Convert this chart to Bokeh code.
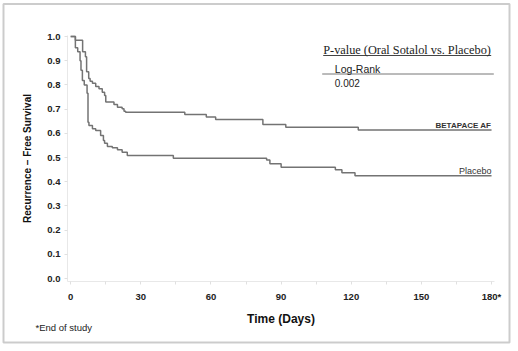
from bokeh.plotting import figure
from bokeh.models import FixedTicker, Label, BoxAnnotation, Range1d, PrintfTickFormatter
from bokeh.embed import file_html
from bokeh.resources import INLINE

# ---- data ----
betapace_days = [0, 2, 5.1, 6.3, 6.8, 7.7, 8.3, 9.3, 10.7, 12.1, 13.5, 14.5, 15, 18.5, 20, 22,
                 22.8, 23.5, 48.8, 58, 62, 82.2, 92, 123, 180]
betapace_surv = [1.0, 0.985, 0.937, 0.916, 0.854, 0.826, 0.815, 0.807, 0.793, 0.784, 0.770, 0.756,
                 0.729, 0.719, 0.708, 0.701, 0.691, 0.687, 0.678, 0.667, 0.657, 0.636, 0.625, 0.614, 0.614]
placebo_days = [0, 2, 3, 4, 4.4, 5.0, 5.8, 7.0, 7.4, 7.8, 9.3, 10.7, 12.8, 14, 14.5, 15.7, 17.8,
                20, 22, 24.2, 43.9, 83.8, 85.2, 90, 113.2, 116, 121.6, 180]
placebo_surv = [1.0, 0.953, 0.937, 0.90, 0.861, 0.818, 0.80, 0.765, 0.646, 0.632, 0.619, 0.612,
                0.591, 0.57, 0.559, 0.545, 0.54, 0.532, 0.522, 0.508, 0.497, 0.49, 0.474, 0.46,
                0.449, 0.437, 0.425, 0.425]
x_ticks = [0, 30, 60, 90, 120, 150, 180]
x_minor = [15, 45, 75, 105, 135, 165]
x_tick_labels = {180: "180*"}
y_ticks = [0.0, 0.1, 0.2, 0.3, 0.4, 0.5, 0.6, 0.7, 0.8, 0.9, 1.0]

# pixel -> data helpers for layout placement
def dx(px):
    return (px - 70.2) / 2.338

def dy(py):
    return (278.0 - py) / 242.0

SANS = "Liberation Sans"
SERIF = "Liberation Serif"
LINE = "#737373"

p = figure(width=518, height=351, output_backend="svg", toolbar_location=None,
           x_range=Range1d(dx(0), dx(518)), y_range=Range1d(dy(351), dy(0)),
           min_border=0)
p.title.visible = False
p.outline_line_color = None
p.grid.visible = False
p.background_fill_color = "white"
p.border_fill_color = "white"

p.step(betapace_days, betapace_surv, mode="after", line_color=LINE, line_width=1.5)
p.step(placebo_days, placebo_surv, mode="after", line_color=LINE, line_width=1.5)

# axes (fixed inside the full-canvas frame)
xa = p.xaxis[0]
xa.fixed_location = dy(281)
xa.bounds = (dx(67), dx(494))
xa.ticker = FixedTicker(ticks=x_ticks, minor_ticks=x_minor)
xa.major_label_overrides = x_tick_labels
xa.axis_line_color = "#e8e8e8"
xa.major_tick_line_color = "#e0e0e0"
xa.minor_tick_line_color = "#e0e0e0"
xa.major_tick_in = 0
xa.major_tick_out = 3
xa.minor_tick_in = 0
xa.minor_tick_out = 3
xa.major_label_standoff = 6
xa.major_label_text_font = SANS
xa.major_label_text_font_style = "bold"
xa.major_label_text_font_size = "9.5px"
xa.major_label_text_color = "#222222"
xa.axis_label = "Time (Days)"
xa.axis_label_text_font = SANS
xa.axis_label_text_font_style = "bold"
xa.axis_label_text_font_size = "12px"
xa.axis_label_text_color = "#111111"
xa.axis_label_standoff = 7

ya = p.yaxis[0]
ya.fixed_location = dx(67)
ya.bounds = (dy(281), dy(35))
ya.ticker = FixedTicker(ticks=y_ticks, minor_ticks=[])
ya.formatter = PrintfTickFormatter(format="%.1f")
ya.axis_line_color = "#e8e8e8"
ya.major_tick_line_color = "#e0e0e0"
ya.major_tick_in = 0
ya.major_tick_out = 3
ya.major_label_standoff = 4
ya.major_label_text_font = SANS
ya.major_label_text_font_style = "bold"
ya.major_label_text_font_size = "9.5px"
ya.major_label_text_color = "#222222"
ya.axis_label = "Recurrence \u2013 Free Survival"
ya.axis_label_text_font = SANS
ya.axis_label_text_font_style = "bold"
ya.axis_label_text_font_size = "10px"
ya.axis_label_text_color = "#111111"
ya.axis_label_standoff = 11

# series labels
p.add_layout(Label(x=dx(490.7), y=dy(125), text="BETAPACE AF", text_align="right",
                   text_baseline="middle", text_font=SANS, text_font_style="bold",
                   text_font_size="8px", text_color="#333333"))
p.add_layout(Label(x=dx(491), y=dy(170.7), text="Placebo", text_align="right",
                   text_baseline="middle", text_font=SANS, text_font_size="9px",
                   text_color="#333333"))

# p-value annotation
p.add_layout(Label(x=dx(322.7), y=dy(49.3), text="P-value (Oral Sotalol vs. Placebo)",
                   text_align="left", text_baseline="middle", text_font=SERIF,
                   text_font_size="12.3px", text_color="#222222"))
p.segment(x0=[dx(322.7)], y0=[dy(55)], x1=[dx(490.7)], y1=[dy(55)], line_color="#444444", line_width=1)
p.add_layout(Label(x=dx(334.3), y=dy(68.8), text="Log-Rank", text_align="left",
                   text_baseline="middle", text_font=SANS, text_font_size="10.5px",
                   text_color="#222222"))
p.segment(x0=[dx(321.7)], y0=[dy(73.5)], x1=[dx(493.3)], y1=[dy(73.5)], line_color="#777777", line_width=1)
p.add_layout(Label(x=dx(334.3), y=dy(82.7), text="0.002", text_align="left",
                   text_baseline="middle", text_font=SANS, text_font_size="10px",
                   text_color="#222222"))

# footnote
p.add_layout(Label(x=dx(35), y=dy(327), text="*End of study", text_align="left",
                   text_baseline="middle", text_font=SANS, text_font_size="9.5px",
                   text_color="#222222"))

# outer border
p.add_layout(BoxAnnotation(left=dx(3), right=dx(509), top=dy(3.5), bottom=dy(342),
                           fill_alpha=0, line_color="#555555", line_width=2))

open("out.html", "w").write(file_html(p, INLINE))
